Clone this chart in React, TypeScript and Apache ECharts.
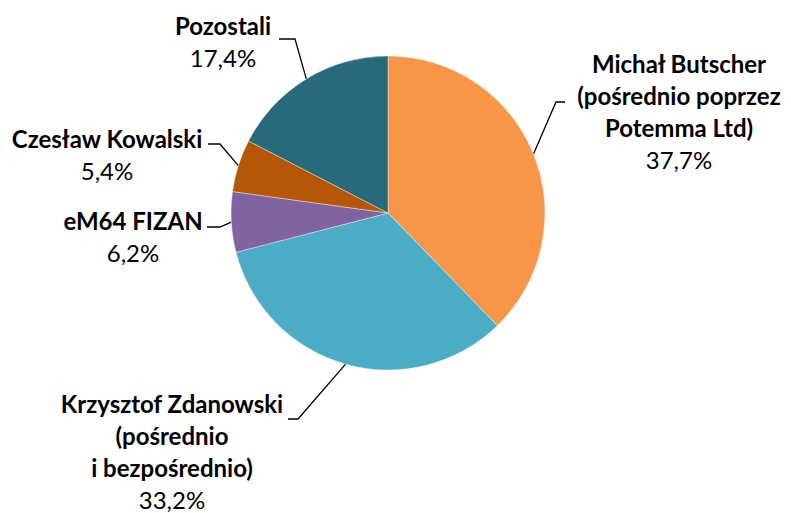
import React, { useEffect, useRef } from "react";
import * as echarts from "echarts";

const names = [
  "Michał Butscher\n(pośrednio poprzez\nPotemma Ltd)",
  "Krzysztof Zdanowski\n(pośrednio\ni bezpośrednio)",
  "eM64 FIZAN",
  "Czesław Kowalski",
  "Pozostali",
];
const values = [37.7, 33.2, 6.2, 5.4, 17.4];
const colors = ["#F79646", "#4BACC6", "#8064A2", "#B65708", "#276A7C"];

// label layout: label block center, line elbow, line end
const labelPos = [
  { x: 679, y: 111, elbow: [556, 102], end: [565, 102] },
  { x: 172, y: 451, elbow: [298, 419], end: [288, 419] },
  { x: 133, y: 236, elbow: [220, 227], end: [207, 227] },
  { x: 107, y: 154, elbow: [220, 144], end: [208, 144] },
  { x: 223, y: 41, elbow: [295, 39], end: [279, 39] },
];

export default function App() {
  const ref = useRef<HTMLDivElement>(null);
  useEffect(() => {
    document.body.style.margin = "0";
    const chart = echarts.init(ref.current!, undefined, { renderer: "svg" });
    chart.setOption({
      animation: false,
      backgroundColor: "#ffffff",
      series: [
        {
          type: "pie",
          center: [388, 213],
          radius: 157,
          startAngle: 90,
          clockwise: true,
          avoidLabelOverlap: false,
          data: names.map((n, i) => ({
            name: n,
            value: values[i],
            itemStyle: { color: colors[i] },
          })),
          itemStyle: { borderColor: "#ffffff", borderWidth: 0.4 },
          label: {
            show: true,
            position: "outside",
            fontFamily: "Lato",
            color: "#000",
            align: "center",
            formatter: (p: any) => {
              const lines = String(p.name).split("\n").map((l: string) => `{b|${l}}`);
              const v = p.value.toFixed(1).replace(".", ",") + "%";
              return lines.join("\n") + `\n{v|${v}}`;
            },
            rich: {
              b: { fontFamily: "Lato", fontWeight: "bold", fontSize: 24, lineHeight: 32, color: "#000", align: "center" },
              v: { fontFamily: "Lato", fontWeight: "normal", fontSize: 24, lineHeight: 32, color: "#000", align: "center" },
            },
          },
          labelLine: {
            show: true,
            lineStyle: { color: "#000", width: 1.3 },
          },
          labelLayout: (params: any) => {
            const lp = labelPos[params.dataIndex];
            const start = params.labelLinePoints ? params.labelLinePoints[0] : lp.elbow;
            return {
              x: lp.x,
              y: lp.y,
              align: "center",
              verticalAlign: "middle",
              labelLinePoints: [start, lp.elbow, lp.end],
            };
          },
        },
      ],
    });
    return () => chart.dispose();
  }, []);
  return <div ref={ref} style={{ width: 791, height: 513 }} />;
}
